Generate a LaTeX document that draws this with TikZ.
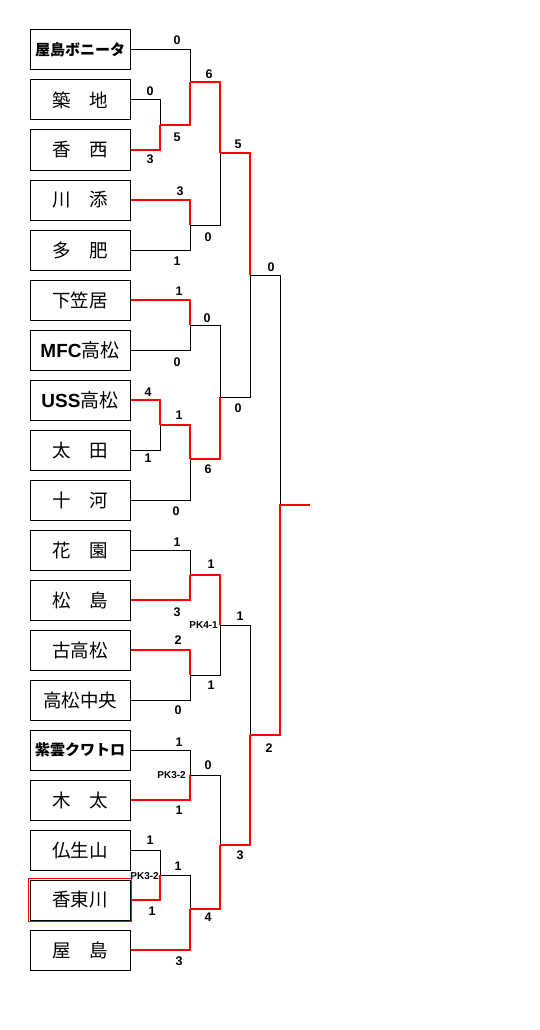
\documentclass[tikz,border=0pt]{standalone}
\usepackage{fontspec}
\setmainfont{Liberation Sans}
\newfontfamily\jp{Noto Sans CJK JP}
\newfontfamily\lat{Liberation Sans}
\begin{document}
\begin{tikzpicture}[x=1pt,y=-1pt,
  team/.style={draw, line width=1pt, minimum width=100pt, minimum height=40pt, inner sep=0pt, font=\jp\fontsize{18.5}{20}\selectfont},
  teamb/.style={team, font=\jp\bfseries\fontsize{15}{17}\selectfont},
  teaml/.style={team, font=\jp\fontsize{19}{20}\selectfont},
  lose/.style={draw=black, line width=1pt},
  win/.style={draw=red, line width=2pt},
  sc/.style={font=\bfseries\fontsize{12.5}{12.5}\selectfont, inner sep=0pt},
  pk/.style={font=\bfseries\fontsize{10}{10}\selectfont, inner sep=0pt, anchor=east}]
\useasboundingbox (0,0) rectangle (540,1030);
% teams
\node[teamb] (t1) at (80,50) {屋島ボニータ};
\node[team] (t2) at (80,100) {築　地};
\node[team] (t3) at (80,150) {香　西};
\node[team] (t4) at (80,200) {川　添};
\node[team] (t5) at (80,250) {多　肥};
\node[team] (t6) at (80,300) {下笠居};
\node[teaml] (t7) at (80,350) {{\lat\bfseries MFC}高松};
\node[teaml] (t8) at (80,400) {{\lat\bfseries USS}高松};
\node[team] (t9) at (80,450) {太　田};
\node[team] (t10) at (80,500) {十　河};
\node[team] (t11) at (80,550) {花　園};
\node[team] (t12) at (80,600) {松　島};
\node[team] (t13) at (80,650) {古高松};
\node[team] (t14) at (80,700) {高松中央};
\node[teamb] (t15) at (80,750) {紫雲クワトロ};
\node[team] (t16) at (80,800) {木　太};
\node[team] (t17) at (80,850) {仏生山};
\node[draw=red, line width=1pt, minimum width=102.5pt, minimum height=42.5pt, inner sep=0pt] (t18r) at (80,900) {};
\node[team] (t18) at (80,900) {香東川};
\node[team] (t19) at (80,950) {屋　島};
% junctions
\coordinate (mA) at (160,125);
\coordinate (mB) at (190,82);
\coordinate (mC) at (190,225);
\coordinate (mD) at (220,153);
\coordinate (mE) at (190,325);
\coordinate (mF) at (160,425);
\coordinate (mG) at (190,459);
\coordinate (mH) at (220,397);
\coordinate (mI) at (250,275);
\coordinate (mJ) at (190,575);
\coordinate (mK) at (190,675);
\coordinate (mL) at (220,625);
\coordinate (mM) at (190,775);
\coordinate (mN) at (160,875);
\coordinate (mO) at (190,909);
\coordinate (mP) at (220,845);
\coordinate (mQ) at (250,735);
\coordinate (mR) at (280,505);
\coordinate (champ) at (310,505);
% losing lines
\draw[lose] (t2.east) -| (mA);
\draw[lose] (t1.east) -| (mB);
\draw[lose] (t5.east) -| (mC);
\draw[lose] (mC) -| (mD);
\draw[lose] (t7.east) -| (mE);
\draw[lose] (t9.east) -| (mF);
\draw[lose] (t10.east) -| (mG);
\draw[lose] (mE) -| (mH);
\draw[lose] (mH) -| (mI);
\draw[lose] (t11.east) -| (mJ);
\draw[lose] (t14.east) -| (mK);
\draw[lose] (mK) -| (mL);
\draw[lose] (t15.east) -| (mM);
\draw[lose] (t17.east) -| (mN);
\draw[lose] (mN) -| (mO);
\draw[lose] (mM) -| (mP);
\draw[lose] (mL) -| (mQ);
\draw[lose] (mI) -| (mR);
% winning lines
\draw[win] (t3.east) -| (mA);
\draw[win] (mA) -| (mB);
\draw[win] (t4.east) -| (mC);
\draw[win] (mB) -| (mD);
\draw[win] (t6.east) -| (mE);
\draw[win] (t8.east) -| (mF);
\draw[win] (mF) -| (mG);
\draw[win] (mG) -| (mH);
\draw[win] (mD) -| (mI);
\draw[win] (t12.east) -| (mJ);
\draw[win] (t13.east) -| (mK);
\draw[win] (mJ) -| (mL);
\draw[win] (t16.east) -| (mM);
\draw[win] (t18.east) -| (mN);
\draw[win] (t19.east) -| (mO);
\draw[win] (mO) -| (mP);
\draw[win] (mP) -| (mQ);
\draw[win] (mQ) -| (mR) -- (champ);
% scores
\node[sc] (s1) at (177,40) {0};
\node[sc] (s2) at (150,91) {0};
\node[sc] (s3) at (150,159) {3};
\node[sc] (s4) at (177,137) {5};
\node[sc] (s5) at (209,74) {6};
\node[sc] (s6) at (180,191) {3};
\node[sc] (s7) at (177,261) {1};
\node[sc] (s8) at (208,237) {0};
\node[sc] (s9) at (238,144) {5};
\node[sc] (s10) at (271,267) {0};
\node[sc] (s11) at (179,291) {1};
\node[sc] (s12) at (177,362) {0};
\node[sc] (s13) at (207,318) {0};
\node[sc] (s14) at (148,392) {4};
\node[sc] (s15) at (148,458) {1};
\node[sc] (s16) at (179,415) {1};
\node[sc] (s17) at (176,511) {0};
\node[sc] (s18) at (208,469) {6};
\node[sc] (s19) at (238,408) {0};
\node[sc] (s20) at (177,542) {1};
\node[sc] (s21) at (177,612) {3};
\node[sc] (s22) at (211,564) {1};
\node[pk] (p1) at (218,625) {PK4-1};
\node[sc] (s23) at (178,640) {2};
\node[sc] (s24) at (178,710) {0};
\node[sc] (s25) at (211,685) {1};
\node[sc] (s26) at (240,616) {1};
\node[sc] (s27) at (269,748) {2};
\node[sc] (s28) at (179,742) {1};
\node[pk] (p2) at (186,775) {PK3-2};
\node[sc] (s29) at (179,810) {1};
\node[sc] (s30) at (208,765) {0};
\node[sc] (s31) at (150,840) {1};
\node[pk] (p3) at (159,876) {PK3-2};
\node[sc] (s32) at (152,911) {1};
\node[sc] (s33) at (178,866) {1};
\node[sc] (s34) at (179,961) {3};
\node[sc] (s35) at (208,917) {4};
\node[sc] (s36) at (240,855) {3};
\end{tikzpicture}
\end{document}
